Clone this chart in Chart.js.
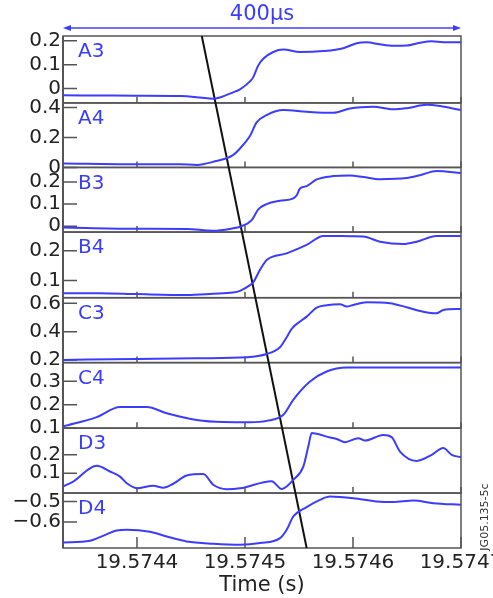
<!DOCTYPE html>
<html>
<head>
<meta charset="utf-8">
<script src="https://cdn.jsdelivr.net/npm/chart.js@4"></script>
<style>
  html, body { margin: 0; padding: 0; background: #fff; }
  #wrap { width: 493px; height: 598px; }
</style>
</head>
<body>
<div id="wrap"><canvas id="sinais" width="493" height="598"></canvas></div>
<script>
// Sinais A3..D4 empilhados num mesmo eixo de tempo. O tempo é guardado em
// microssegundos a partir de T0 = 19.5743 s; o rótulo do eixo volta a segundos.

const T0 = 19.5743;
const timeTicks = [100, 200, 300, 400];

const panelNames = ["A3", "A4", "B3", "B4", "C3", "C4", "D3", "D4"];
const yMin = [-0.06, 0, -0.026, 0.043, 0.181, 0.1, -0.009, -0.726];
const yMax = [0.22, 0.43, 0.265, 0.262, 0.64, 0.38, 0.346, -0.459];
const yTicks = [
  [0, 0.1, 0.2],
  [0, 0.2, 0.4],
  [0, 0.1, 0.2],
  [0.1, 0.2],
  [0.2, 0.4, 0.6],
  [0.1, 0.2, 0.3],
  [0.1, 0.2],
  [-0.6, -0.5],
];

const a3Time = [31.5, 65.7, 100, 139.8, 158.3, 170.4, 176.9, 188.9, 195.4, 204.6, 207.7, 212.3, 216.9, 226.2, 235.5, 250.9, 272.5, 291, 303.4, 312.7, 325, 337.3, 349.7, 362, 372.9, 383.6, 400];
const a3Val = [-0.028, -0.029, -0.030, -0.031, -0.037, -0.043, -0.037, -0.016, -0.003, 0.030, 0.048, 0.097, 0.125, 0.153, 0.163, 0.153, 0.157, 0.169, 0.190, 0.194, 0.185, 0.179, 0.180, 0.192, 0.198, 0.194, 0.194];

const a4Time = [31.5, 96.3, 139.8, 155.6, 170.4, 188.9, 195.4, 204.6, 210.8, 220.1, 235.5, 257.1, 281.8, 297.2, 318.8, 337.3, 349.7, 368.2, 380.6, 400];
const a4Val = [0.027, 0.022, 0.022, 0.017, 0.037, 0.082, 0.127, 0.21, 0.30, 0.349, 0.382, 0.371, 0.364, 0.393, 0.404, 0.387, 0.395, 0.417, 0.409, 0.382];

const b3Time = [31.5, 96.3, 146.3, 170.4, 188.9, 195.4, 206.2, 212.3, 220.1, 232.4, 244.7, 247.9, 250.9, 257.1, 266.4, 281.8, 297.2, 309.5, 325, 349.7, 362, 377.5, 400];
const b3Val = [-0.005, -0.011, -0.012, -0.020, -0.009, -0.002, 0.028, 0.076, 0.100, 0.115, 0.126, 0.140, 0.170, 0.181, 0.211, 0.226, 0.229, 0.222, 0.212, 0.217, 0.230, 0.249, 0.240];

const b4Time = [31.5, 65.7, 100, 146.3, 170.4, 188.9, 195.4, 204.6, 207.7, 213.9, 220.1, 238.6, 257.1, 272.5, 288, 309.5, 325, 346.6, 359, 377.5, 400];
const b4Val = [0.058, 0.058, 0.055, 0.052, 0.056, 0.060, 0.066, 0.085, 0.095, 0.136, 0.169, 0.191, 0.219, 0.249, 0.249, 0.247, 0.230, 0.222, 0.230, 0.249, 0.249];

const c3Time = [31.5, 100, 158.3, 201.9, 220.1, 232.4, 238.6, 243.2, 252.5, 257.1, 266.4, 275.6, 288, 294.2, 300.3, 312.7, 334.3, 349.7, 365.1, 377.5, 383.6, 400];
const c3Val = [0.200, 0.207, 0.212, 0.219, 0.242, 0.29, 0.36, 0.42, 0.48, 0.506, 0.570, 0.587, 0.594, 0.577, 0.589, 0.608, 0.601, 0.572, 0.541, 0.530, 0.553, 0.560];

const c4Time = [31.5, 62.7, 84.3, 109, 127.5, 155.3, 179.9, 204.6, 220.1, 235.5, 244.7, 260.2, 275.6, 294.2, 306.5, 400];
const c4Val = [0.107, 0.147, 0.190, 0.190, 0.164, 0.135, 0.126, 0.125, 0.131, 0.157, 0.221, 0.299, 0.342, 0.359, 0.359, 0.359];

const d3Time = [31.5, 41, 62.7, 75, 84.3, 90.5, 99.7, 115.1, 124.4, 133.6, 146, 161.4, 170.6, 176.9, 183.1, 195.4, 224.7, 234, 244.7, 254, 258.6, 261.8, 266.4, 278.7, 284.9, 292.6, 304.9, 311.1, 328, 335.8, 343.5, 359, 372.9, 383.6, 391.4, 400];
const d3Val = [0.027, 0.054, 0.140, 0.109, 0.081, 0.045, 0.018, 0.031, 0.020, 0.042, 0.087, 0.095, 0.036, 0.018, 0.012, 0.017, 0.056, 0.013, 0.063, 0.136, 0.245, 0.319, 0.315, 0.295, 0.287, 0.269, 0.291, 0.278, 0.309, 0.297, 0.218, 0.167, 0.200, 0.237, 0.200, 0.187];

const d4Time = [31.5, 56.5, 65.7, 81.2, 90.5, 112, 127.5, 146, 170.6, 195.4, 213.9, 232.4, 238.6, 244.7, 257.1, 269.4, 278.7, 300.3, 321.9, 337.3, 355.8, 374.4, 400];
const d4Val = [-0.699, -0.691, -0.673, -0.641, -0.637, -0.647, -0.670, -0.694, -0.705, -0.710, -0.702, -0.678, -0.637, -0.573, -0.527, -0.492, -0.476, -0.484, -0.500, -0.503, -0.495, -0.508, -0.516];

// reta preta que atravessa todos os painéis (1 = topo, 0 = base)
const diagTime = [160.0, 257.1];
const diagLevel = [1, 0];

const signalTime = [a3Time, a4Time, b3Time, b4Time, c3Time, c4Time, d3Time, d4Time];
const signalVal = [a3Val, a4Val, b3Val, b4Val, c3Val, c4Val, d3Val, d4Val];

// ---------------------------------------------------------------------------

const BLUE = "#3c3cff";
const TXT = "#222";
const FRAME = "#555";
const FONT = "'DejaVu Sans', sans-serif";

const panelIds = panelNames.map((n) => "y" + n);
const panelWeights = [67, 64.6, 64.7, 65.7, 65, 65.6, 65, 55];

function pontos(t, v) {
  return t.map((x, i) => ({ x, y: v[i] }));
}

const datasets = panelNames.map((name, i) => ({
  label: name,
  data: pontos(signalTime[i], signalVal[i]),
  yAxisID: panelIds[i],
  borderColor: BLUE,
  borderWidth: 2,
  pointRadius: 0,
  fill: false,
  cubicInterpolationMode: "monotone",
}));

datasets.push({
  label: "marcador",
  data: pontos(diagTime, diagLevel),
  yAxisID: "yLine",
  borderColor: "#111",
  borderWidth: 2,
  pointRadius: 0,
  tension: 0,
});

const scales = {
  x: {
    type: "linear",
    min: 31.5,
    max: 400,
    afterBuildTicks: (s) => { s.ticks = timeTicks.map((v) => ({ value: v })); },
    afterFit: (s) => { s.height = 50; s.paddingLeft = 0; s.paddingRight = 0; },
    grid: { display: false, drawTicks: false },
    border: { display: false },
    ticks: {
      color: TXT,
      font: { family: FONT, size: 20 },
      padding: 3,
      maxRotation: 0,
      autoSkip: false,
      callback: (v) => (T0 + v * 1e-6).toFixed(4),
    },
    title: {
      display: true,
      text: "Time (s)",
      color: TXT,
      font: { family: FONT, size: 21 },
      padding: { top: 0, bottom: 0 },
    },
  },
  yLine: { type: "linear", display: false, position: "right", min: 0, max: 1 },
};

// definidos de baixo para cima: o último eixo da pilha fica no topo
for (let i = panelIds.length - 1; i >= 0; i--) {
  scales[panelIds[i]] = {
    type: "linear",
    position: "left",
    stack: "paineis",
    stackWeight: panelWeights[i],
    min: yMin[i],
    max: yMax[i],
    afterBuildTicks: (s) => { s.ticks = yTicks[i].map((v) => ({ value: v })); },
    afterFit: (s) => { s.width = 63; s.paddingTop = 0; s.paddingBottom = 0; },
    grid: { display: false, drawTicks: false },
    border: { display: false },
    ticks: {
      color: TXT,
      font: { family: FONT, size: 20 },
      padding: 2,
      autoSkip: false,
      callback: (v) => String(v).replace("-", "\u2212"),
    },
  };
}

// molduras, marcas de escala internas, nomes dos sinais e anotações
const paineis = {
  id: "paineis",
  beforeDatasetsDraw(chart) {
    const { ctx, chartArea: area, scales: sc } = chart;
    const xs = sc.x;
    ctx.save();
    ctx.strokeStyle = FRAME;
    ctx.lineWidth = 1.5;
    panelIds.forEach((id, i) => {
      const s = sc[id];
      ctx.strokeRect(area.left, s.top, area.right - area.left, s.bottom - s.top);
      ctx.beginPath();
      s.ticks.forEach((t) => {
        const y = s.getPixelForValue(t.value);
        ctx.moveTo(area.left, y);
        ctx.lineTo(area.left + 14, y);
      });
      const len = i === panelIds.length - 1 ? 11 : 6;
      xs.ticks.forEach((t) => {
        const x = xs.getPixelForValue(t.value);
        ctx.moveTo(x, s.bottom);
        ctx.lineTo(x, s.bottom - len);
      });
      ctx.stroke();
    });
    ctx.lineWidth = 2;
    ctx.beginPath();
    ctx.moveTo(area.left, area.top);
    ctx.lineTo(area.left, area.bottom);
    ctx.stroke();
    ctx.restore();
  },
  afterDraw(chart) {
    const { ctx, chartArea: area, scales: sc } = chart;
    ctx.save();

    ctx.fillStyle = BLUE;
    ctx.font = `20px ${FONT}`;
    ctx.textAlign = "left";
    ctx.textBaseline = "middle";
    panelIds.forEach((id, i) => {
      ctx.fillText(chart.data.datasets[i].label, area.left + 15, sc[id].top + 16);
    });

    // seta de 400 µs sobre o gráfico
    const ya = area.top - 8;
    ctx.strokeStyle = BLUE;
    ctx.lineWidth = 1.5;
    ctx.beginPath();
    ctx.moveTo(area.left + 2, ya);
    ctx.lineTo(area.right - 2, ya);
    ctx.stroke();
    ctx.beginPath();
    ctx.moveTo(area.left, ya);
    ctx.lineTo(area.left + 8, ya - 3);
    ctx.lineTo(area.left + 8, ya + 3);
    ctx.closePath();
    ctx.moveTo(area.right, ya);
    ctx.lineTo(area.right - 8, ya - 3);
    ctx.lineTo(area.right - 8, ya + 3);
    ctx.closePath();
    ctx.fill();
    ctx.font = `21px ${FONT}`;
    ctx.textAlign = "center";
    ctx.fillText("400\u00b5s", (area.left + area.right) / 2, 15);

    // código da figura, vertical à direita
    ctx.fillStyle = "#333";
    ctx.font = `11px ${FONT}`;
    ctx.translate(area.right + 24, area.bottom - 31);
    ctx.rotate(-Math.PI / 2);
    ctx.fillText("JG05.135-5c", 0, 0);
    ctx.restore();
  },
};

new Chart(document.getElementById("sinais"), {
  type: "line",
  data: { datasets },
  options: {
    responsive: false,
    animation: false,
    layout: { padding: { top: 36, left: 0, right: 32, bottom: 0 } },
    plugins: { legend: { display: false }, tooltip: { enabled: false } },
    scales,
  },
  plugins: [paineis],
});
</script>
</body>
</html>
